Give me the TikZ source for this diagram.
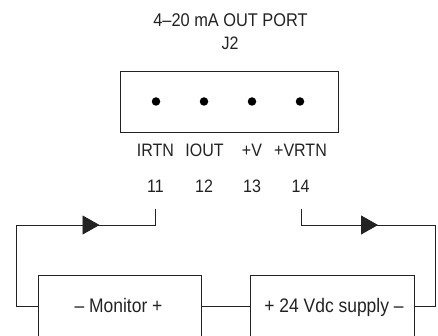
\documentclass[tikz,border=0pt]{standalone}
\usepackage{fontspec}
\setmainfont{Liberation Sans}[FakeStretch=0.89]
\usetikzlibrary{arrows.meta}
\definecolor{ink}{HTML}{222222}
\tikzset{
  wire/.style={draw=ink,line width=0.9pt},
  lbl/.style={inner sep=0pt,anchor=base,text=ink,font=\fontsize{18}{20}\selectfont},
  boxlbl/.style={lbl,font=\fontsize{19.6}{22}\selectfont},
  pin/.style={circle,fill=black,inner sep=0pt,minimum size=8.5pt},
  openbox/.style={inner sep=0pt,minimum height=60pt},
  flow/.style={wire,-{Triangle[length=17pt,width=19pt,fill=ink]}}
}
\begin{document}
\begin{tikzpicture}[x=1pt,y=-1pt]
\useasboundingbox (0,0) rectangle (438,336);
\node[lbl,font=\fontsize{18.4}{20}\selectfont] (title) at (230.5,27) {4–20 mA OUT PORT};
\node[lbl] (j2) at (230,50) {J2};
\node[draw=ink,line width=0.9pt,minimum width=218pt,minimum height=61pt,inner sep=0pt] (port) at (229,102) {};
\node[pin] (p1) at (156,101.5) {};
\node[pin] (p2) at (204,101.5) {};
\node[pin] (p3) at (252,101.5) {};
\node[pin] (p4) at (300,101.5) {};
\node[lbl] (n1) at (155.5,157) {IRTN};
\node[lbl] (n2) at (204.5,157) {IOUT};
\node[lbl] (n3) at (252,157) {+V};
\node[lbl] (n4) at (300.5,157) {+VRTN};
\node[lbl] (t1) at (155.5,193) {11};
\node[lbl] (t2) at (204,193) {12};
\node[lbl] (t3) at (252,193) {13};
\node[lbl] (t4) at (300.5,193) {14};
\node[openbox,minimum width=162.5pt] (mon) at (120.3,306) {};
\node[openbox,minimum width=163pt] (sup) at (332.3,306) {};
\node[boxlbl] (montext) at (118.5,312.5) {– Monitor +};
\node[boxlbl] (suptext) at (334,312.5) {+ 24 Vdc supply –};
\draw[wire] (mon.south west)--(mon.north west)--(mon.north east)--(mon.south east);
\draw[wire] (sup.south west)--(sup.north west)--(sup.north east)--(sup.south east);
\draw[wire] (mon.east)--(sup.west);
\coordinate (a) at (155.5,209);
\coordinate (b) at (155.5,225);
\coordinate (c) at (16.5,225);
\coordinate (d) at (16.5,306);
\coordinate (e) at (301.5,209);
\coordinate (f) at (301.5,225);
\coordinate (g) at (435.5,225);
\coordinate (h) at (435.5,306);
\coordinate (tipl) at (99.5,225);
\coordinate (tipr) at (378,225);
\draw[wire,line join=miter] (a)--(b)--(c)--(d)--(mon.west);
\draw[wire,line join=miter] (e)--(f)--(g)--(h)--(sup.east);
\draw[flow] (c)--(tipl);
\draw[flow] (f)--(tipr);
\end{tikzpicture}
\end{document}
